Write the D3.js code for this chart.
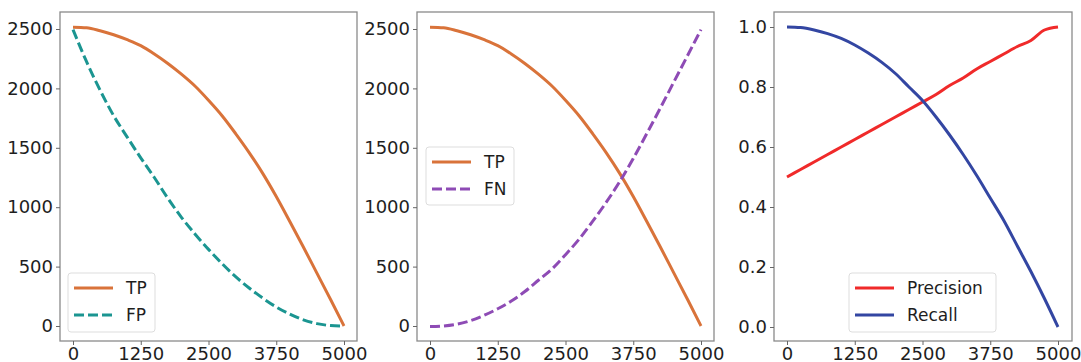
<!DOCTYPE html>
<html>
<head>
<script src="https://d3js.org/d3.v7.min.js" charset="utf-8"></script>
<style>
    body { margin: 0; background: #fff; }
    text { font-family: "DejaVu Sans", sans-serif; fill: #1e1e1e; }
</style>
</head>
<body>
<script>
    // thresholds (x axis)
    var steps = [0, 250, 500, 750, 1000, 1250, 1500, 1750, 2000, 2250, 2500,
                 2750, 3000, 3250, 3500, 3750, 4000, 4250, 4500, 4750, 5000];

    var tp = [2515, 2510, 2485, 2452, 2410, 2360, 2290, 2210, 2120, 2020, 1900,
              1770, 1620, 1460, 1285, 1090, 880, 665, 445, 225, 0];
    var fp = [2495, 2225, 1985, 1770, 1590, 1415, 1250, 1075, 915, 775, 645,
              525, 415, 320, 235, 160, 100, 52, 20, 4, 0];
    var fn = [-5, 0, 15, 45, 90, 145, 210, 290, 385, 480, 600,
              730, 880, 1040, 1215, 1410, 1620, 1835, 2055, 2275, 2495];
    var precision = [0.50, 0.525, 0.55, 0.575, 0.60, 0.625, 0.65, 0.675, 0.70, 0.725, 0.75,
                     0.775, 0.805, 0.83, 0.86, 0.885, 0.91, 0.935, 0.955, 0.99, 1.0];
    var recall = [1.0, 0.998, 0.99, 0.978, 0.962, 0.94, 0.913, 0.882, 0.845, 0.80, 0.755,
                  0.70, 0.64, 0.575, 0.505, 0.43, 0.355, 0.27, 0.185, 0.095, 0.0];

    var xTicks = [0, 1250, 2500, 3750, 5000];
    var countTicks = [0, 500, 1000, 1500, 2000, 2500];
    var rateTicks = [0, 0.2, 0.4, 0.6, 0.8, 1.0];

    var w = 1081, h = 362;
    var svg = d3.select("body").append("svg").attr("width", w).attr("height", h);

    var panels = [
        {left: 60, right: 357, x0: 73, x1: 344, yTop: 29, yBot: 326, dom: [0, 2500], ticks: countTicks, fmt: d3.format("d"),
         series: [{name: "TP", values: tp, color: "#d9733a", dash: null},
                  {name: "FP", values: fp, color: "#1b9591", dash: "10,4"}],
         legend: {x: 68, y: 273, w: 87, h: 59}},
        {left: 417, right: 714, x0: 430, x1: 701, yTop: 29, yBot: 326, dom: [0, 2500], ticks: countTicks, fmt: d3.format("d"),
         series: [{name: "TP", values: tp, color: "#d9733a", dash: null},
                  {name: "FN", values: fn, color: "#8e4bb5", dash: "10,4"}],
         legend: {x: 426, y: 147, w: 88, h: 58}},
        {left: 774, right: 1072, x0: 787, x1: 1058, yTop: 27, yBot: 327, dom: [0, 1], ticks: rateTicks, fmt: d3.format(".1f"),
         series: [{name: "Precision", values: precision, color: "#f02a2a", dash: null},
                  {name: "Recall", values: recall, color: "#3346a2", dash: null}],
         legend: {x: 849, y: 273, w: 147, h: 59}}
    ];

    var frameTop = 12, frameBottom = 341;

    panels.forEach(function(p) {
        var x = d3.scaleLinear().domain([0, 5000]).range([p.x0, p.x1]);
        var y = d3.scaleLinear().domain(p.dom).range([p.yBot, p.yTop]);
        var g = svg.append("g");

        var line = d3.line()
            .x(function(d, i) { return x(steps[i]); })
            .y(function(d) { return y(d); })
            .curve(d3.curveMonotoneX);

        p.series.forEach(function(s) {
            g.append("path")
                .attr("d", line(s.values))
                .attr("fill", "none")
                .attr("stroke", s.color)
                .attr("stroke-width", 3)
                .attr("stroke-dasharray", s.dash)
                .attr("stroke-linejoin", "round");
        });

        // frame
        g.append("rect")
            .attr("x", p.left).attr("y", frameTop)
            .attr("width", p.right - p.left).attr("height", frameBottom - frameTop)
            .attr("fill", "none").attr("stroke", "#8a8a8a").attr("stroke-width", 1.3);

        var xAxis = g.append("g").attr("transform", "translate(0," + frameBottom + ")")
            .call(d3.axisBottom(x).tickValues(xTicks).tickFormat(d3.format("d")).tickSize(4).tickPadding(2));
        var yAxis = g.append("g").attr("transform", "translate(" + p.left + ",0)")
            .call(d3.axisLeft(y).tickValues(p.ticks).tickFormat(p.fmt).tickSize(4).tickPadding(3));
        [xAxis, yAxis].forEach(function(a) {
            a.select(".domain").remove();
            a.selectAll("line").attr("stroke", "#666");
            a.selectAll("text").style("font-size", "18px").attr("fill", "#1e1e1e")
                .style("font-family", "'DejaVu Sans', sans-serif");
        });

        // legend
        var L = p.legend;
        g.append("rect")
            .attr("x", L.x).attr("y", L.y).attr("width", L.w).attr("height", L.h)
            .attr("rx", 3).attr("fill", "#fff").attr("fill-opacity", 0.85)
            .attr("stroke", "#ddd").attr("stroke-width", 1);
        p.series.forEach(function(s, i) {
            var ly = L.y + 15 + i * 27;
            g.append("line")
                .attr("x1", L.x + 6).attr("x2", L.x + 45)
                .attr("y1", ly).attr("y2", ly)
                .attr("stroke", s.color).attr("stroke-width", 3)
                .attr("stroke-dasharray", s.dash);
            g.append("text")
                .attr("x", L.x + 58).attr("y", ly)
                .attr("dy", "0.35em")
                .style("font-size", "17px")
                .text(s.name);
        });
    });
</script>
</body>
</html>
